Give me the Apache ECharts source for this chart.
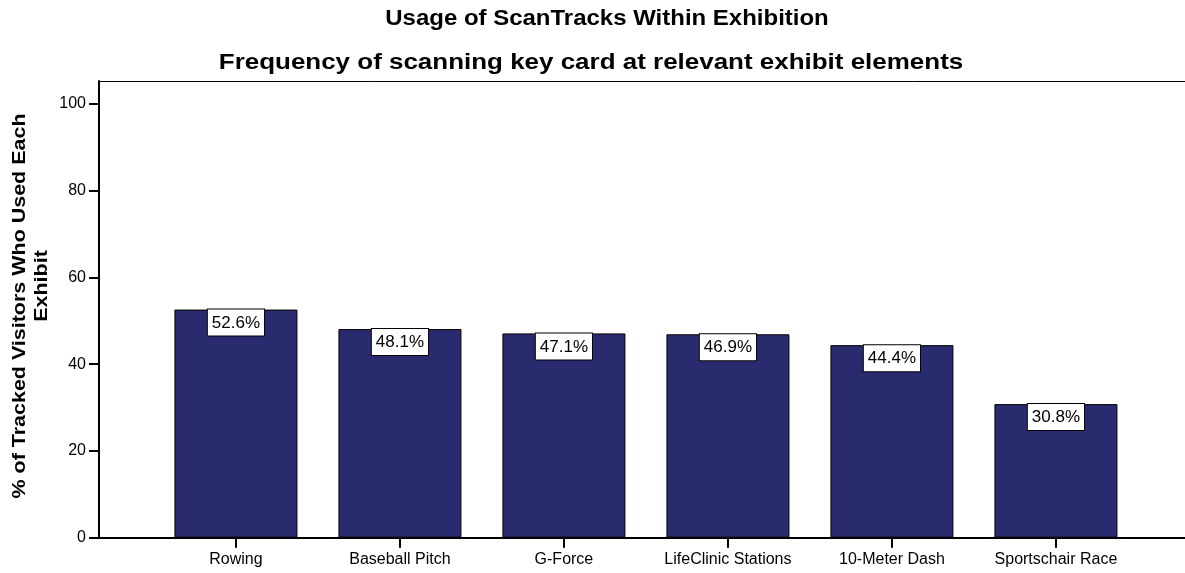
<!DOCTYPE html>
<html>
<head>
<meta charset="utf-8">
<script src="https://cdn.jsdelivr.net/npm/echarts@6/dist/echarts.min.js"></script>
<style>
  html, body { margin: 0; padding: 0; background: #fff; }
  #chart { width: 1185px; height: 573px; }
</style>
</head>
<body>
<div id="chart"></div>
<script>
// Exhibit elements and share of tracked visitors who scanned there (%)
const categories = ['Rowing', 'Baseball Pitch', 'G-Force', 'LifeClinic Stations', '10-Meter Dash', 'Sportschair Race'];
const usagePct = [52.6, 48.1, 47.1, 46.9, 44.4, 30.8];
const yTicks = [0, 20, 40, 60, 80, 100];

const titleText = 'Usage of ScanTracks Within Exhibition';
const subtitleText = 'Frequency of scanning key card at relevant exhibit elements';
const yNameLine1 = '% of Tracked Visitors Who Used Each';
const yNameLine2 = 'Exhibit';

const FONT = '"Liberation Sans", Arial, sans-serif';
const catIndex = categories.map((_, i) => i);

const chart = echarts.init(document.getElementById('chart'), null, { renderer: 'canvas' });

// bold heading text, widened along its baseline
function heading(text, x, y, size, stretch, rotated) {
  return {
    type: 'text', x: x, y: y,
    rotation: rotated ? Math.PI / 2 : 0,
    scaleX: stretch,
    style: { text: text, font: 'bold ' + size + 'px ' + FONT, fill: '#000', align: 'center', verticalAlign: 'middle' }
  };
}

chart.setOption({
  backgroundColor: '#ffffff',
  animation: false,
  graphic: [
    heading(titleText, 607, 19, 22, 1.09, false),
    heading(subtitleText, 591, 63, 22, 1.18, false),
    heading(yNameLine1, 20, 306, 19, 1.13, true),
    heading(yNameLine2, 42, 286, 19, 1.13, true)
  ],
  grid: { left: 99, right: 0, top: 81, bottom: 35.3, containLabel: false },
  xAxis: [
    {
      type: 'value',
      min: -0.835,
      max: 5.787,
      splitLine: { show: false },
      axisLine: { show: true, onZero: false, lineStyle: { color: '#000', width: 2 } },
      axisTick: { show: true, length: 10, customValues: catIndex, lineStyle: { color: '#000', width: 2 } },
      axisLabel: {
        customValues: catIndex,
        margin: 14,
        fontFamily: FONT, fontSize: 16, color: '#000',
        formatter: v => categories[Math.round(v)]
      }
    },
    {
      type: 'value',
      position: 'top',
      min: -0.835,
      max: 5.787,
      splitLine: { show: false },
      axisLine: { show: true, onZero: false, lineStyle: { color: '#000', width: 1 } },
      axisTick: { show: false },
      axisLabel: { show: false }
    }
  ],
  yAxis: {
    type: 'value',
    min: 0,
    max: 105.3,
    splitLine: { show: false },
    axisLine: { show: true, onZero: false, lineStyle: { color: '#000', width: 2 } },
    axisTick: { show: true, length: 10, customValues: yTicks, lineStyle: { color: '#000', width: 2 } },
    axisLabel: {
      customValues: yTicks,
      margin: 13,
      fontFamily: FONT, fontSize: 16, color: '#000'
    }
  },
  series: [
    {
      type: 'bar',
      xAxisIndex: 0,
      barWidth: 123,
      data: usagePct.map((v, i) => [i, v]),
      itemStyle: { color: '#2a2a6e', borderColor: '#000', borderWidth: 1 },
      label: {
        show: true,
        position: 'insideTop',
        distance: 0,
        fontFamily: FONT, fontSize: 17, color: '#000',
        backgroundColor: '#fff',
        borderColor: '#000', borderWidth: 1,
        padding: [5, 4, 4, 4],
        formatter: p => p.value[1].toFixed(1) + '%'
      }
    }
  ]
});
</script>
</body>
</html>
